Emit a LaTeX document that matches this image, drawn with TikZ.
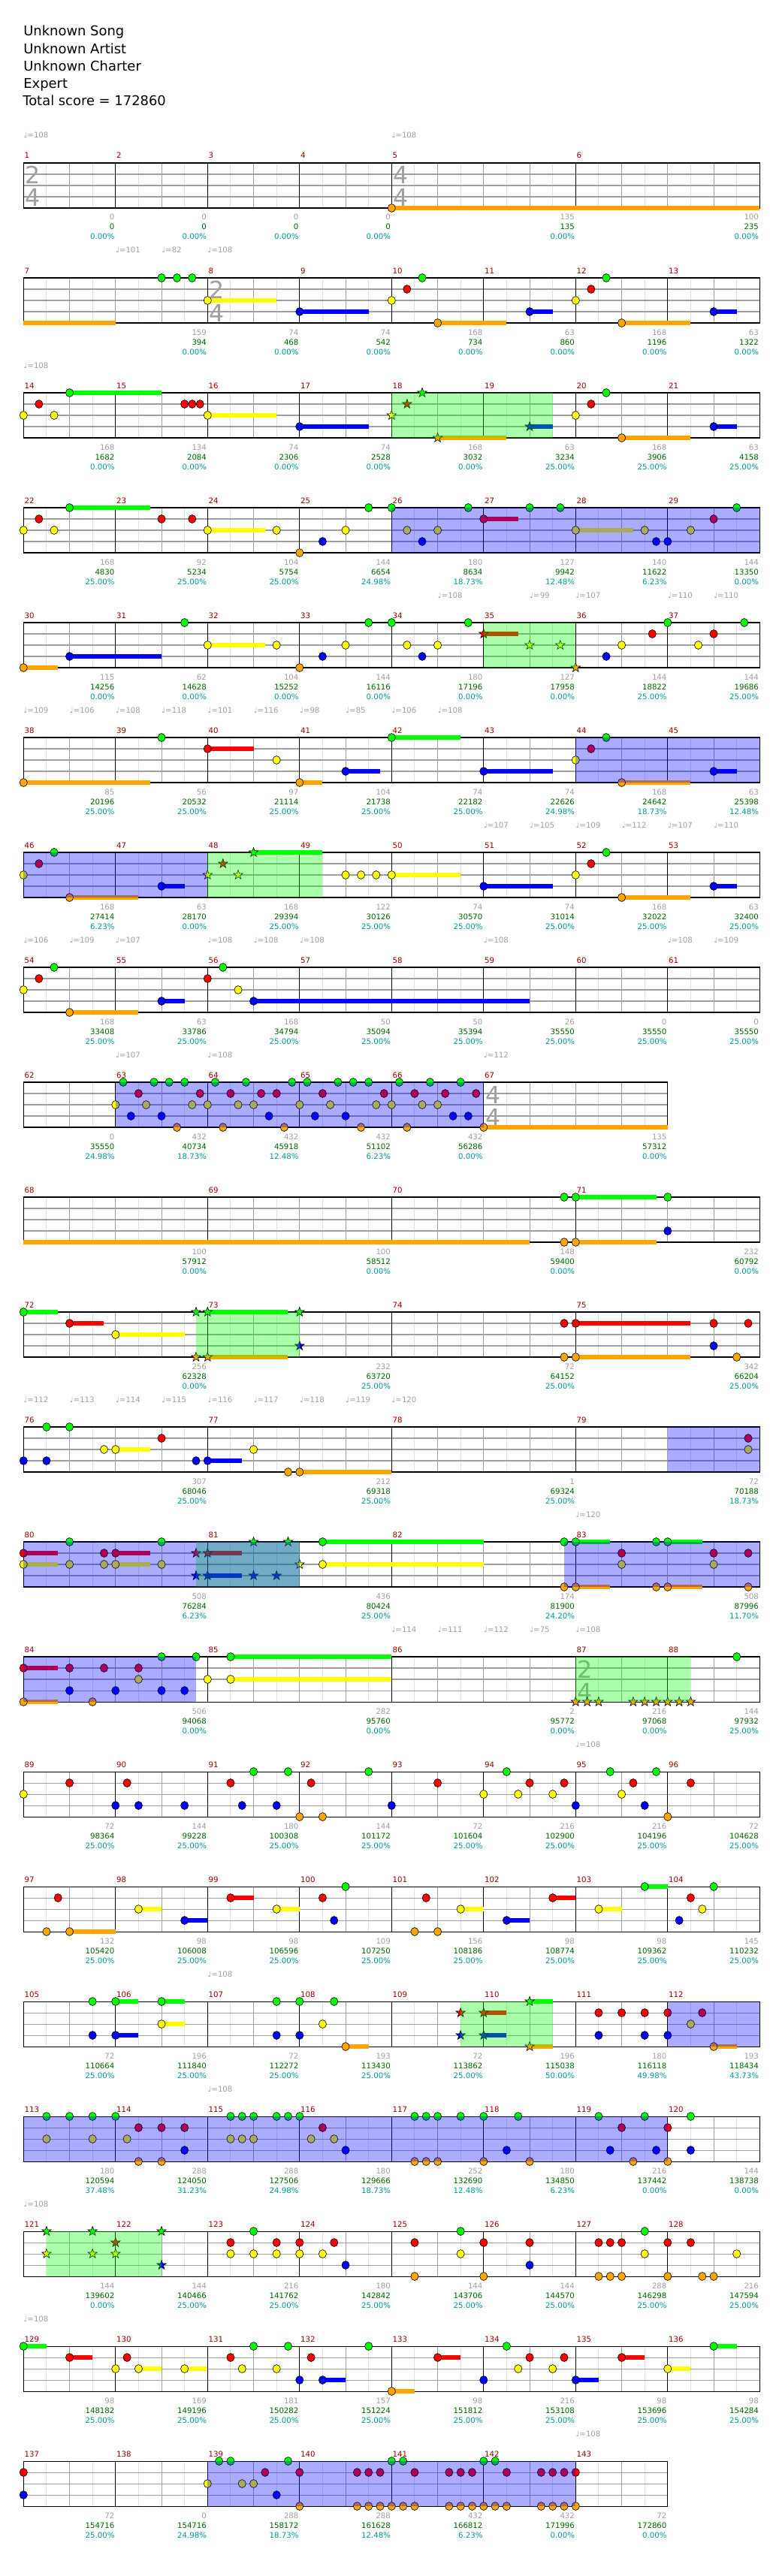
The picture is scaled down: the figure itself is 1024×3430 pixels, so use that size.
\documentclass[tikz,border=0pt]{standalone}
\usepackage{fontspec}
\setmainfont{DejaVu Sans}
\usepackage{tikz}
\definecolor{lane0}{HTML}{00FF00}
\definecolor{lane1}{HTML}{FF0000}
\definecolor{lane2}{HTML}{FFFF00}
\definecolor{lane3}{HTML}{0000FF}
\definecolor{lane4}{HTML}{FFA500}
\definecolor{MeasRed}{HTML}{990000}
\definecolor{TallyGray}{HTML}{A0A0A0}
\definecolor{TallyGreen}{HTML}{006600}
\definecolor{TallyTeal}{HTML}{009999}
\definecolor{GridLight}{HTML}{E2E2E2}
\definecolor{GridMid}{HTML}{A0A0A0}
\newcommand{\hx}[1]{31.3+30.625*(#1)}
\newcommand{\staff}[2]{%
  \foreach \i in {1,...,#1} \draw[halfline] ({\hx{\i}},0) -- ({\hx{\i}},60);
  \foreach \i in {2,4,...,#1} \draw[beatline] ({\hx{\i}},0) -- ({\hx{\i}},60);
  \foreach \k in {15,30,45} \draw[laneline] ({\hx{0}},\k) -- ({\hx{#1}},\k);
  \foreach \i in {#2} \draw[barline] ({\hx{\i}},0) -- ({\hx{\i}},60);
  \draw[barline] ({\hx{0}},0) rectangle ({\hx{#1}},60);}
\newcommand{\tsig}[3]{%
  \node[tsig] (ts#1a) at ({\hx{#1}+2},28) {#2};
  \node[tsig] (ts#1b) at ({\hx{#1}+2},58) {#3};}
\newcommand{\gem}[2]{\filldraw[gemline,fill=lane#1] ({\hx{#2}},{15*#1}) ellipse [x radius=2.9pt,y radius=3.1pt];}
\newcommand{\sgem}[2]{\filldraw[gemline,fill=lane#1] ({\hx{#2}},{15*#1})
  +(90:3.7pt) -- +(126:1.5pt) -- +(162:3.7pt) -- +(198:1.5pt) -- +(234:3.7pt) -- +(270:1.5pt)
  -- +(306:3.7pt) -- +(342:1.5pt) -- +(18:3.7pt) -- +(54:1.5pt) -- cycle;}
\newcommand{\tail}[3]{\fill[lane#1] ({\hx{#2}},{15*#1-3.4}) rectangle ({\hx{#3}},{15*#1+3.4});}
\newcommand{\gems}[2]{\foreach \vh in {#2} {\gem{#1}{\vh}}}
\newcommand{\stars}[2]{\foreach \vh in {#2} {\sgem{#1}{\vh}}}
\newcommand{\tails}[2]{\foreach \va/\vb in {#2} {\tail{#1}{\va}{\vb}}}
\newcommand{\spz}[2]{\fill[spzone] ({\hx{#1}},0) rectangle ({\hx{#2}},60);}
\newcommand{\soz}[2]{\fill[solozone] ({\hx{#1}},0) rectangle ({\hx{#2}},60);}
\newcommand{\measures}[1]{\foreach \vh/\vn in {#1} \node[mnum] (m\vn) at ({\hx{\vh}+1},-6) {\vn};}
\newcommand{\tallies}[1]{\foreach \vh/\va/\vb/\vc [count=\vk] in {#1} {%
  \node[gscore] (g\vk) at ({\hx{\vh}-1},76) {\va};
  \node[tscore] (t\vk) at ({\hx{\vh}-1},89) {\vb};
  \node[pscore] (p\vk) at ({\hx{\vh}-1},102) {\vc\%};}}
\newcommand{\tempos}[1]{\foreach \vh/\vt in {#1} \node[tempo] (q\vh) at ({\hx{\vh}},-33) {♩=\vt};}

\begin{document}
\begin{tikzpicture}[
  x=0.02cm, y=-0.02cm,
  gemline/.style={draw=black,line width=0.35pt},
  halfline/.style={draw=GridLight,line width=0.5pt},
  beatline/.style={draw=GridMid,line width=0.55pt},
  laneline/.style={draw=GridMid,line width=0.6pt},
  barline/.style={draw=black,line width=0.6pt},
  spzone/.style={fill=lane0,fill opacity=0.33},
  solozone/.style={fill=lane3,fill opacity=0.33},
  header/.style={anchor=base west,inner sep=0pt,font=\fontsize{10.2}{13}\selectfont},
  mnum/.style={anchor=base west,inner sep=0pt,text=MeasRed,font=\fontsize{5.8}{7}\selectfont},
  gscore/.style={anchor=base east,inner sep=0pt,text=TallyGray,font=\fontsize{5.8}{7}\selectfont},
  tscore/.style={anchor=base east,inner sep=0pt,text=TallyGreen,font=\fontsize{5.8}{7}\selectfont},
  pscore/.style={anchor=base east,inner sep=0pt,text=TallyTeal,font=\fontsize{5.8}{7}\selectfont},
  tempo/.style={anchor=base west,inner sep=0pt,text=TallyGray,font=\fontsize{5.8}{7}\selectfont},
  tsig/.style={anchor=base west,inner sep=0pt,text=GridMid,font=\fontsize{18}{20}\selectfont}
]
\useasboundingbox[fill=white] (0,0) rectangle (1024,3430);
\node[header] (song) at (31,48) {Unknown Song};
\node[header] (artist) at (31,72) {Unknown Artist};
\node[header] (charter) at (31,95) {Unknown Charter};
\node[header] (level) at (31,118) {Expert};
\node[header] (total) at (30,141) {Total score = 172860};

\begin{scope}[shift={(0,217)}]
\staff{32}{4,8,12,16,24}
\tsig{0}{2}{4} \tsig{16}{4}{4}
\tails{4}{16/32}
\gems{4}{16}
\measures{0/1,4/2,8/3,12/4,16/5,24/6}
\tallies{4/0/0/0.00,8/0/0/0.00,12/0/0/0.00,16/0/0/0.00,24/135/135/0.00,32/100/235/0.00}
\tempos{0/108,16/108}
\end{scope}

\begin{scope}[shift={(0,370)}]
\staff{32}{8,12,16,20,24,28}
\tsig{8}{2}{4}
\tails{4}{0/4,18/21,26/29} \tails{2}{8/11} \tails{3}{12/15,22/23,30/31}
\gems{0}{6,6.67,7.33,17.33,25.33} \gems{1}{16.67,24.67} \gems{2}{8,16,24}
\gems{3}{12,22,30} \gems{4}{18,26}
\measures{0/7,8/8,12/9,16/10,20/11,24/12,28/13}
\tallies{8/159/394/0.00,12/74/468/0.00,16/74/542/0.00,20/168/734/0.00,24/63/860/0.00,28/168/1196/0.00,32/63/1322/0.00}
\tempos{4/101,6/82,8/108}
\end{scope}

\begin{scope}[shift={(0,523)}]
\staff{32}{4,8,12,16,20,24,28}
\tails{0}{2/6} \tails{2}{8/11} \tails{3}{12/15,22/23,30/31} \tails{4}{18/21,26/29}
\gems{0}{2,25.33} \gems{1}{0.67,7,7.33,7.67,24.67} \gems{2}{0,1.33,8,24}
\gems{3}{12,30} \gems{4}{26}
\stars{0}{17.33} \stars{1}{16.67} \stars{2}{16} \stars{3}{22} \stars{4}{18}
\spz{16}{23}
\measures{0/14,4/15,8/16,12/17,16/18,20/19,24/20,28/21}
\tallies{4/168/1682/0.00,8/134/2084/0.00,12/74/2306/0.00,16/74/2528/0.00,20/168/3032/0.00,24/63/3234/25.00,28/168/3906/25.00,32/63/4158/25.00}
\tempos{0/108}
\end{scope}

\begin{scope}[shift={(0,676)}]
\staff{32}{4,8,12,16,20,24,28}
\tails{0}{2/5.5} \tails{1}{20/21.5} \tails{2}{8/10.5,24/26.5}
\gems{0}{2,15,16,19.33,22,23.33,31} \gems{1}{0.67,6,7.33,20,30}
\gems{2}{0,1.33,8,11,14,16.67,18,24,27,29} \gems{3}{13,17.33,27.5,28} \gems{4}{12}
\soz{16}{32}
\measures{0/22,4/23,8/24,12/25,16/26,20/27,24/28,28/29}
\tallies{4/168/4830/25.00,8/92/5234/25.00,12/104/5754/25.00,16/144/6654/24.98,20/180/8634/18.73,24/127/9942/12.48,28/140/11622/6.23,32/144/13350/0.00}
\end{scope}

\begin{scope}[shift={(0,829)}]
\staff{32}{4,8,12,16,20,24,28}
\tails{4}{0/1.5} \tails{3}{2/6} \tails{2}{8/10.5} \tails{1}{20/21.5}
\gems{0}{7,15,16,19.33,28,31.33} \gems{1}{27.33,30} \gems{2}{8,11,14,16.67,18,26,29.33}
\gems{3}{2,13,17.33,25.33} \gems{4}{0,12}
\stars{1}{20} \stars{2}{22,23.33} \stars{4}{24}
\spz{20}{24}
\measures{0/30,4/31,8/32,12/33,16/34,20/35,24/36,28/37}
\tallies{4/115/14256/0.00,8/62/14628/0.00,12/104/15252/0.00,16/144/16116/0.00,20/180/17196/0.00,24/127/17958/0.00,28/144/18822/25.00,32/144/19686/25.00}
\tempos{18/108,22/99,24/107,28/110,30/110}
\end{scope}

\begin{scope}[shift={(0,982)}]
\staff{32}{4,8,12,16,20,24,28}
\tails{4}{0/5.5,12/13,26/29} \tails{1}{8/10} \tails{3}{14/15.5,20/23,30/31} \tails{0}{16/19}
\gems{0}{6,16,25.33} \gems{1}{8,24.67} \gems{2}{11,24} \gems{3}{14,20,30} \gems{4}{0,12,26}
\soz{24}{32}
\measures{0/38,4/39,8/40,12/41,16/42,20/43,24/44,28/45}
\tallies{4/85/20196/25.00,8/56/20532/25.00,12/97/21114/25.00,16/104/21738/25.00,20/74/22182/25.00,24/74/22626/24.98,28/168/24642/18.73,32/63/25398/12.48}
\tempos{0/109,2/106,4/108,6/118,8/101,10/116,12/98,14/85,16/106,18/108}
\end{scope}

\begin{scope}[shift={(0,1135)}]
\staff{32}{4,8,12,16,20,24,28}
\tails{4}{2/5,26/29} \tails{3}{6/7,20/23,30/31} \tails{0}{10/13} \tails{2}{16/19}
\gems{0}{1.33,25.33} \gems{1}{0.67,24.67} \gems{2}{0,14,14.67,15.33,16,24}
\gems{3}{6,20,30} \gems{4}{2,26}
\stars{0}{10} \stars{1}{8.67} \stars{2}{8,9.33}
\spz{8}{13} \soz{0}{8}
\measures{0/46,4/47,8/48,12/49,16/50,20/51,24/52,28/53}
\tallies{4/168/27414/6.23,8/63/28170/0.00,12/168/29394/25.00,16/122/30126/25.00,20/74/30570/25.00,24/74/31014/25.00,28/168/32022/25.00,32/63/32400/25.00}
\tempos{20/107,22/105,24/109,26/112,28/107,30/110}
\end{scope}

\begin{scope}[shift={(0,1288)}]
\staff{32}{4,8,12,16,20,24,28}
\tails{4}{2/5} \tails{3}{6/7,10/22}
\gems{0}{1.33,8.67} \gems{1}{0.67,8} \gems{2}{0,9.33} \gems{3}{6,10} \gems{4}{2}
\measures{0/54,4/55,8/56,12/57,16/58,20/59,24/60,28/61}
\tallies{4/168/33408/25.00,8/63/33786/25.00,12/168/34794/25.00,16/50/35094/25.00,20/50/35394/25.00,24/26/35550/25.00,28/0/35550/25.00,32/0/35550/25.00}
\tempos{0/106,2/109,4/107,8/108,10/108,12/108,20/108,28/108,30/109}
\end{scope}

\begin{scope}[shift={(0,1441)}]
\staff{28}{4,8,12,16,20}
\tsig{20}{4}{4}
\tails{4}{20/28}
\gems{0}{4.33,5.67,6.33,7,8.33,9.67,11.67,12.33,13.67,14.33,15,16.33,17.67,19}
\gems{1}{5,7.67,9,10.33,11,13,15.67,17,18.33,19.67}
\gems{2}{4,5.33,7.33,8,9.33,10,12,13.33,15.33,16,17.33,18}
\gems{3}{4.67,6,10.67,12.67,14,18.67,19.33}
\gems{4}{6.67,8.67,11.33,14.67,16.67,20}
\soz{4}{20}
\measures{0/62,4/63,8/64,12/65,16/66,20/67}
\tallies{4/0/35550/24.98,8/432/40734/18.73,12/432/45918/12.48,16/432/51102/6.23,20/432/56286/0.00,28/135/57312/0.00}
\tempos{4/107,8/108,20/112}
\end{scope}

\begin{scope}[shift={(0,1594)}]
\staff{32}{8,16,24}
\tails{4}{0/22,24/27.5} \tails{0}{24/27.5}
\gems{0}{23.5,24,28} \gems{3}{28} \gems{4}{23.5,24}
\measures{0/68,8/69,16/70,24/71}
\tallies{8/100/57912/0.00,16/100/58512/0.00,24/148/59400/0.00,32/232/60792/0.00}
\end{scope}

\begin{scope}[shift={(0,1747)}]
\staff{32}{8,16,24}
\tails{0}{0/1.5,8/11.5} \tails{1}{2/3.5,24/29} \tails{2}{4/7} \tails{4}{8/11.5,24/29}
\gems{0}{0} \gems{1}{2,23.5,24,30,31.5} \gems{2}{4} \gems{3}{30} \gems{4}{23.5,24,31}
\stars{0}{7.5,8,12} \stars{3}{12} \stars{4}{7.5,8}
\spz{7.5}{12}
\measures{0/72,8/73,16/74,24/75}
\tallies{8/256/62328/0.00,16/232/63720/25.00,24/72/64152/25.00,32/342/66204/25.00}
\end{scope}

\begin{scope}[shift={(0,1900)}]
\staff{32}{8,16,24}
\tails{2}{4/5.5} \tails{3}{8/9.5} \tails{4}{12/16}
\gems{0}{1,2} \gems{1}{6,31.5} \gems{2}{3.5,4,10,31.5} \gems{3}{0,1,7.5,8} \gems{4}{11.5,12}
\soz{28}{32}
\measures{0/76,8/77,16/78,24/79}
\tallies{8/307/68046/25.00,16/212/69318/25.00,24/1/69324/25.00,32/72/70188/18.73}
\tempos{0/112,2/113,4/114,6/115,8/116,10/117,12/118,14/119,16/120}
\end{scope}

\begin{scope}[shift={(0,2053)}]
\staff{32}{8,16,24}
\tails{1}{0/1.5,4/5.5,8/9.5} \tails{2}{0/1.5,4/5.5,13/20} \tails{3}{8/9.5}
\tails{0}{13/20,24/25.5,28/29.5} \tails{4}{24/25.5,28/29.5}
\gems{0}{2,6,13,23.5,24,27.5,28} \gems{1}{0,3.5,4,26,30,31.5}
\gems{2}{0,2,3.5,4,6,13,26,30} \gems{4}{23.5,24,27.5,28,31.5}
\stars{0}{10,11.5} \stars{1}{7.5,8} \stars{2}{12} \stars{3}{7.5,8,10,11}
\spz{7.5}{12} \soz{0}{12} \soz{23.5}{32}
\measures{0/80,8/81,16/82,24/83}
\tallies{8/508/76284/6.23,16/436/80424/25.00,24/174/81900/24.20,32/508/87996/11.70}
\tempos{24/120}
\end{scope}

\begin{scope}[shift={(0,2206)}]
\staff{32}{8,16,24,28}
\tsig{24}{2}{4}
\tails{1}{0/1.5} \tails{4}{0/1.5} \tails{0}{9/16} \tails{2}{9/16}
\gems{0}{6,7.5,9,31} \gems{1}{0,2,3.5,5} \gems{2}{5,8,9} \gems{3}{2,4,6,7} \gems{4}{0,3}
\stars{4}{24,24.5,25,26.5,27,27.5,28,28.5,29}
\spz{24}{29} \soz{0}{7.5}
\measures{0/84,8/85,16/86,24/87,28/88}
\tallies{8/506/94068/0.00,16/282/95760/0.00,24/2/95772/0.00,28/216/97068/0.00,32/144/97932/25.00}
\tempos{16/114,18/111,20/112,22/75,24/108}
\end{scope}

\begin{scope}[shift={(0,2359)}]
\staff{32}{4,8,12,16,20,24,28}
\gems{0}{10,11.5,15,21,25.5,27.5} \gems{1}{2,4.5,9,12.5,18,22,23.5,26.5,29}
\gems{2}{0,20,21.5,23,26} \gems{3}{4,5,7,9.5,11,16,24,27} \gems{4}{12,13,28}
\measures{0/89,4/90,8/91,12/92,16/93,20/94,24/95,28/96}
\tallies{4/72/98364/25.00,8/144/99228/25.00,12/180/100308/25.00,16/144/101172/25.00,20/72/101604/25.00,24/216/102900/25.00,28/216/104196/25.00,32/72/104628/25.00}
\tempos{24/108}
\end{scope}

\begin{scope}[shift={(0,2512)}]
\staff{32}{4,8,12,16,20,24,28}
\tails{4}{2/4} \tails{2}{5/6,11/12,19/20,25/26} \tails{3}{7/8,21/22} \tails{1}{9/10,23/24} \tails{0}{27/28}
\gems{0}{14,27,30} \gems{1}{1.5,9,13,17.5,23,29} \gems{2}{5,11,19,25,29.5}
\gems{3}{7,13.5,21,28.5} \gems{4}{1,2,17,18}
\measures{0/97,4/98,8/99,12/100,16/101,20/102,24/103,28/104}
\tallies{4/132/105420/25.00,8/98/106008/25.00,12/98/106596/25.00,16/109/107250/25.00,20/156/108186/25.00,24/98/108774/25.00,28/98/109362/25.00,32/145/110232/25.00}
\end{scope}

\begin{scope}[shift={(0,2665)}]
\staff{32}{4,8,12,16,20,24,28}
\tails{0}{4/5,6/7,22/23} \tails{3}{4/5,20/21} \tails{2}{6/7} \tails{4}{14/15,22/23,30/31} \tails{1}{20/21}
\gems{0}{3,4,6,11,12,13.5} \gems{1}{25,26,27,28,29.5} \gems{2}{6,13,29}
\gems{3}{3,4,11,12,25,27,28} \gems{4}{14,30}
\stars{0}{22} \stars{1}{19,20} \stars{3}{19,20} \stars{4}{22}
\spz{19}{23} \soz{28}{32}
\measures{0/105,4/106,8/107,12/108,16/109,20/110,24/111,28/112}
\tallies{4/72/110664/25.00,8/196/111840/25.00,12/72/112272/25.00,16/193/113430/25.00,20/72/113862/25.00,24/196/115038/50.00,28/180/116118/49.98,32/193/118434/43.73}
\tempos{8/108}
\end{scope}

\begin{scope}[shift={(0,2818)}]
\staff{32}{4,8,12,16,20,24,28}
\gems{0}{1,2,3,4,9,9.5,10,11,11.5,12,17,17.5,18,19,20,21.5,25,27,29}
\gems{1}{5,6,7,13,26,28} \gems{2}{1,3,4.5,9,9.5,10,12.5,13.5}
\gems{3}{7,14,21,25.5,27.5,29} \gems{4}{5,6,17,17.5,18,20,22,26.5,28}
\soz{0}{28}
\measures{0/113,4/114,8/115,12/116,16/117,20/118,24/119,28/120}
\tallies{4/180/120594/37.48,8/288/124050/31.23,12/288/127506/24.98,16/180/129666/18.73,20/252/132690/12.48,24/180/134850/6.23,28/216/137442/0.00,32/144/138738/0.00}
\tempos{8/108}
\end{scope}

\begin{scope}[shift={(0,2971)}]
\staff{32}{4,8,12,16,20,24,28}
\gems{0}{10,19,27} \gems{1}{9,11,12,13.5,17,20,22,25,25.5,26,28,29}
\gems{2}{9,10,11,12,13,19,27,31} \gems{3}{14,22} \gems{4}{17,20,25,25.5,26,28,29.5,30}
\stars{0}{1,3,6} \stars{1}{4} \stars{2}{1,3,4} \stars{3}{6}
\spz{1}{6}
\measures{0/121,4/122,8/123,12/124,16/125,20/126,24/127,28/128}
\tallies{4/144/139602/0.00,8/144/140466/25.00,12/216/141762/25.00,16/180/142842/25.00,20/144/143706/25.00,24/144/144570/25.00,28/288/146298/25.00,32/216/147594/25.00}
\tempos{0/108}
\end{scope}

\begin{scope}[shift={(0,3124)}]
\staff{32}{4,8,12,16,20,24,28}
\tails{0}{0/1,30/31} \tails{1}{2/3,18/19,26/27} \tails{2}{5/6,7/8,28/29} \tails{3}{13/14,24/25} \tails{4}{16/17}
\gems{0}{0,10,11.5,15,21,30} \gems{1}{2,4.5,9,12.5,18,22,23.5,26}
\gems{2}{4,5,7,9.5,11,21.5,23,28} \gems{3}{12,13,20,24} \gems{4}{16}
\measures{0/129,4/130,8/131,12/132,16/133,20/134,24/135,28/136}
\tallies{4/98/148182/25.00,8/169/149196/25.00,12/181/150282/25.00,16/157/151224/25.00,20/98/151812/25.00,24/216/153108/25.00,28/98/153696/25.00,32/98/154284/25.00}
\tempos{0/108}
\end{scope}

\begin{scope}[shift={(0,3277)}]
\staff{28}{4,8,12,16,20,24}
\gems{0}{8.5,9,11.5,16,16.5,20,20.5}
\gems{1}{0,10.5,12,14.5,15,15.5,17,18.5,19,19.5,21,22.5,23,23.5,24}
\gems{2}{8,9.5,10} \gems{3}{0,11}
\gems{4}{12,14.5,15,15.5,16,16.5,17,18.5,19,19.5,20,20.5,21,22.5,23,23.5,24}
\soz{8}{24}
\measures{0/137,4/138,8/139,12/140,16/141,20/142,24/143}
\tallies{4/72/154716/25.00,8/0/154716/24.98,12/288/158172/18.73,16/288/161628/12.48,20/432/166812/6.23,24/432/171996/0.00,28/72/172860/0.00}
\tempos{24/108}
\end{scope}
\end{tikzpicture}
\end{document}
